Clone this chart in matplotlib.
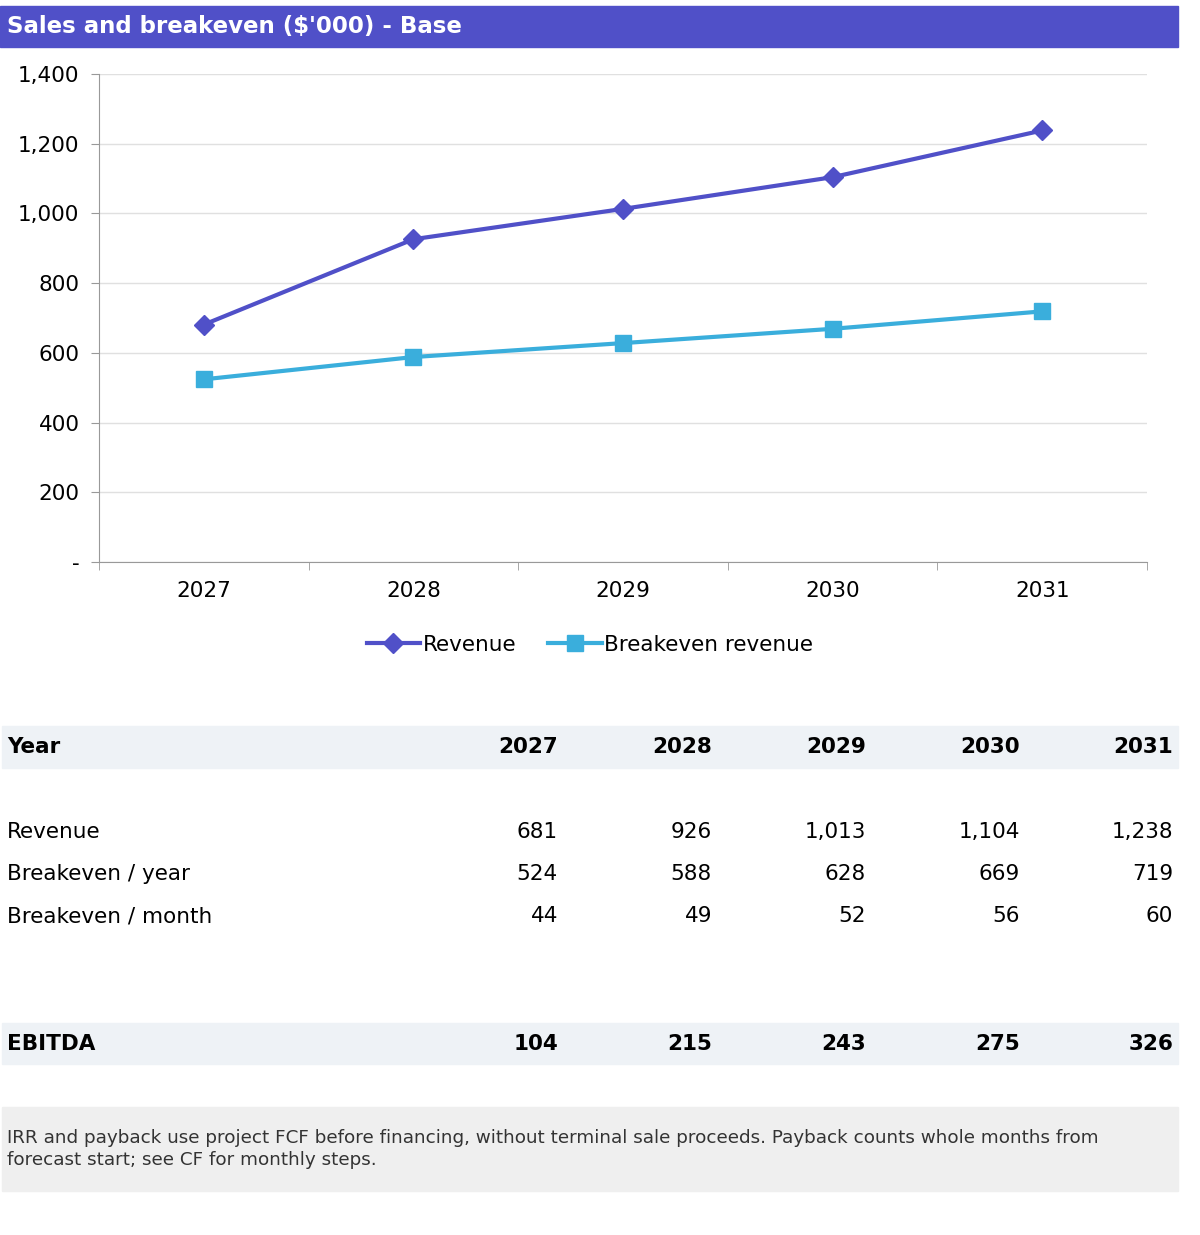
import matplotlib.pyplot as plt
from matplotlib.patches import Rectangle
from matplotlib.lines import Line2D

years = ['2027', '2028', '2029', '2030', '2031']
revenue = [681, 926, 1013, 1104, 1238]
breakeven_year = [524, 588, 628, 669, 719]
breakeven_month = [44, 49, 52, 56, 60]
ebitda = [104, 215, 243, 275, 326]
row_labels = ['Revenue', 'Breakeven / year', 'Breakeven / month']
note = ('IRR and payback use project FCF before financing, without terminal sale proceeds. Payback counts whole months from\n'
        'forecast start; see CF for monthly steps.')

W, H = 1200, 1235
purple = '#5050C8'
cyan = '#3AAEDC'
fs = 15.5

fig = plt.figure(figsize=(W / 100, H / 100), dpi=100)

def fy(y):
    return 1 - y / H

def fx(x):
    return x / W

def band(y0, y1, color, x0=2, x1=1178):
    fig.patches.append(Rectangle((fx(x0), fy(y1)), fx(x1 - x0), (y1 - y0) / H,
                                 transform=fig.transFigure, color=color, zorder=0))

# title bar
band(6, 47, purple, 0, 1178)
fig.text(fx(7), fy(27), "Sales and breakeven ($'000) - Base", color='white',
         fontsize=16.5, fontweight='bold', va='center')

# chart
ax = fig.add_axes([fx(99), fy(562), fx(1147 - 99), (562 - 74) / H])
x = range(len(years))
ax.plot(x, revenue, color=purple, lw=3, marker='D', ms=10, label='Revenue')
ax.plot(x, breakeven_year, color=cyan, lw=3, marker='s', ms=11, label='Breakeven revenue')
ax.set_xlim(-0.5, 4.5)
ax.set_ylim(0, 1400)
ax.set_yticks(range(0, 1401, 200))
ax.set_yticklabels(['-'] + [f'{v:,}' for v in range(200, 1401, 200)])
ax.set_xticks(x)
ax.set_xticklabels(years)
ax.set_xticks([i - 0.5 for i in range(6)], minor=True)
ax.tick_params(axis='x', which='major', length=0, pad=14, labelsize=fs)
ax.tick_params(axis='x', which='minor', length=6, color='#999999')
ax.tick_params(axis='y', length=6, color='#999999', labelsize=fs, pad=8)
ax.grid(axis='y', color='#E0E0E0', lw=1)
ax.set_axisbelow(True)
for s in ['top', 'right']:
    ax.spines[s].set_visible(False)
ax.spines['left'].set_color('#999999')
ax.spines['bottom'].set_color('#999999')
handles = [Line2D([], [], color=purple, lw=3, marker='D', ms=10),
           Line2D([], [], color=cyan, lw=3, marker='s', ms=11)]
fig.legend(handles, ['Revenue', 'Breakeven revenue'], loc='center',
           bbox_to_anchor=(fx(590), fy(645)), ncol=2, frameon=False,
           fontsize=fs, handlelength=2.5, handletextpad=0.1, columnspacing=1.5)

# table
cols = [558, 712, 866, 1020, 1173]
band(726, 768, '#EEF2F6')
fig.text(fx(7), fy(747), 'Year', fontsize=fs, fontweight='bold', va='center')
for cx, yr in zip(cols, years):
    fig.text(fx(cx), fy(747), yr, fontsize=fs, fontweight='bold', va='center', ha='right')

rows = [revenue, breakeven_year, breakeven_month]
for ry, lab, vals in zip([832, 874, 916], row_labels, rows):
    fig.text(fx(7), fy(ry), lab, fontsize=fs, va='center')
    for cx, v in zip(cols, vals):
        fig.text(fx(cx), fy(ry), f'{v:,}', fontsize=fs, va='center', ha='right')

band(1023, 1064, '#EEF2F6')
fig.text(fx(7), fy(1044), 'EBITDA', fontsize=fs, fontweight='bold', va='center')
for cx, v in zip(cols, ebitda):
    fig.text(fx(cx), fy(1044), f'{v:,}', fontsize=fs, fontweight='bold', va='center', ha='right')

band(1107, 1191, '#EFEFEF')
fig.text(fx(7), fy(1149), note, fontsize=13.2, va='center', color='#333333', linespacing=1.35)

fig.savefig('out.png', dpi=100)
